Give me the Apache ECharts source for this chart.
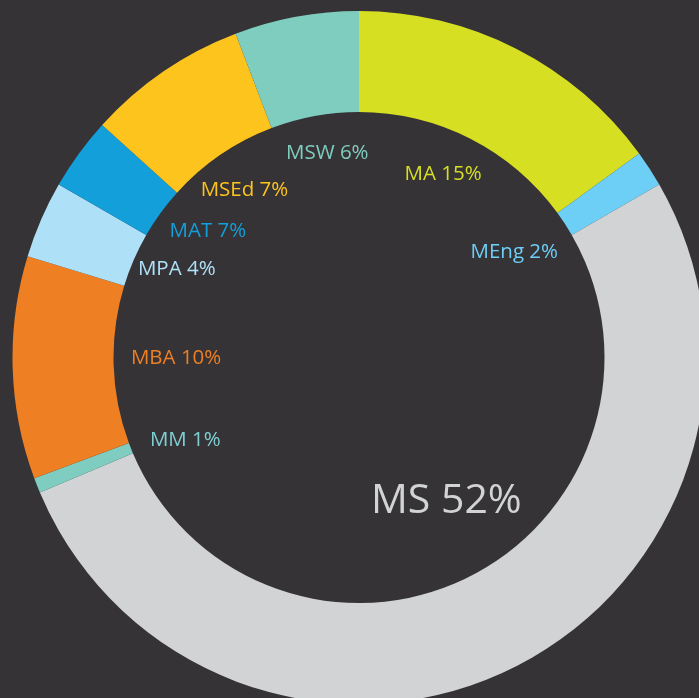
<!DOCTYPE html>
<html>
<head>
<meta charset="utf-8">
<script src="https://cdn.jsdelivr.net/npm/echarts@6/dist/echarts.min.js"></script>
<style>
html,body{margin:0;padding:0;background:#363336;}
#chart{width:699px;height:698px;}
</style>
</head>
<body>
<div id="chart"></div>
<script>
// Data
var categories = ['MA', 'MEng', 'MS', 'MM', 'MBA', 'MPA', 'MAT', 'MSEd', 'MSW'];
var values = [15, 1.7, 52, 0.7, 10.4, 3.6, 3.4, 7.5, 5.8];
var percentLabels = ['15%', '2%', '52%', '1%', '10%', '4%', '7%', '7%', '6%'];
var palette = ['#d7df23', '#6dcff6', '#d1d3d4', '#7fcdc0', '#ee7f22', '#aee1f7', '#139fda', '#fdc41d', '#7fcdbf'];
var labelColors = ['#d7df23', '#6dcff6', '#d1d3d4', '#7ecfd4', '#ee7f22', '#aee1f7', '#139fda', '#fdc41d', '#7fcdbf'];
// small label nudges (dx, dy) to follow the reference placement
var labelShiftX = [-8, -15, -3, 15, 20, 4, 13, 0, 5];
var labelShiftY = [-2, 5, -38, 8, -5, -8, -7, 0, -5];

var chart = echarts.init(document.getElementById('chart'), null, {renderer: 'canvas'});

var ringData = categories.map(function (c, i) {
  return {name: c, value: values[i], itemStyle: {color: palette[i]}};
});
var labelData = categories.map(function (c, i) {
  return {
    name: c, value: values[i],
    label: {
      color: labelColors[i],
      fontSize: c === 'MS' ? 41 : 20.5
    }
  };
});

chart.setOption({
  backgroundColor: '#363336',
  animation: false,
  series: [
    {
      type: 'pie',
      center: [359, 357.5],
      radius: [245.5, 346.5],
      startAngle: 90,
      clockwise: true,
      silent: true,
      avoidLabelOverlap: false,
      label: {show: false},
      labelLine: {show: false},
      itemStyle: {borderWidth: 0},
      data: ringData
    },
    {
      type: 'pie',
      center: [359, 357.5],
      radius: [155, 245],
      startAngle: 90,
      clockwise: true,
      silent: true,
      avoidLabelOverlap: false,
      itemStyle: {color: 'rgba(0,0,0,0)'},
      labelLine: {show: false},
      label: {
        show: true,
        position: 'inside',
        fontFamily: 'Open Sans',
        formatter: function (p) { return p.name + ' ' + percentLabels[p.dataIndex]; }
      },
      labelLayout: function (p) {
        return {dx: labelShiftX[p.dataIndex], dy: labelShiftY[p.dataIndex]};
      },
      data: labelData
    }
  ]
});
</script>
</body>
</html>
